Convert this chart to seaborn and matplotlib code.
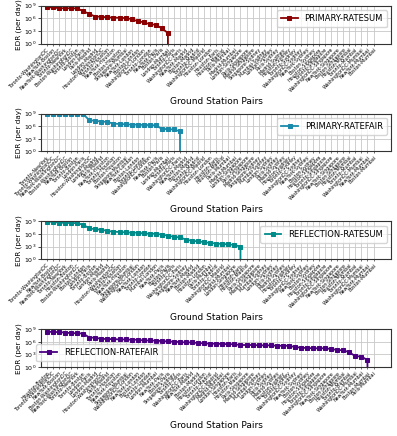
import numpy as np
import matplotlib
matplotlib.use("Agg")
import matplotlib.pyplot as plt
import seaborn as sns

# --- data (EDR per day) ---
labels_p_sum = [
    "Toronto-WashingtonDC", "NewYork-Boston", "NewYork-WashingtonDC", "Toronto-NewYork",
    "Boston-WashingtonDC", "Toronto-Boston", "London-Paris", "Paris-Madrid", "London-Madrid",
    "Houston-WashingtonDC", "Toronto-Houston", "NewYork-Houston", "Boston-Houston",
    "Singapore-Mumbai", "NewYork-London", "Boston-London", "WashingtonDC-London",
    "Toronto-London", "NewYork-Paris", "Boston-Paris", "London-Mumbai", "Toronto-Paris",
    "WashingtonDC-Paris", "NewYork-Madrid", "Boston-Madrid", "Toronto-Madrid",
    "WashingtonDC-Madrid", "Houston-London", "Houston-Paris", "Houston-Madrid", "Paris-Mumbai",
    "Madrid-Mumbai", "London-Singapore", "Paris-Singapore", "Madrid-Singapore",
    "Singapore-Sydney", "Mumbai-Sydney", "London-Sydney", "Paris-Sydney", "Madrid-Sydney",
    "Houston-Sydney", "Toronto-Sydney", "WashingtonDC-Sydney", "NewYork-Sydney", "Boston-Sydney",
    "Houston-Singapore", "Toronto-Singapore", "WashingtonDC-Singapore", "NewYork-Singapore",
    "Boston-Singapore", "Houston-Mumbai", "Toronto-Mumbai", "WashingtonDC-Mumbai",
    "NewYork-Mumbai", "Boston-Mumbai",
]
labels_p_fair = [
    "Toronto-NewYork", "Toronto-WashingtonDC", "NewYork-WashingtonDC", "Boston-WashingtonDC",
    "NewYork-Boston", "Toronto-Boston", "London-Paris", "Houston-WashingtonDC", "London-Madrid",
    "Paris-Madrid", "NewYork-Houston", "Toronto-Houston", "Boston-Houston", "Singapore-Mumbai",
    "NewYork-London", "Boston-London", "Toronto-London", "WashingtonDC-London", "NewYork-Paris",
    "Boston-Paris", "London-Mumbai", "Toronto-Paris", "WashingtonDC-Paris", "NewYork-Madrid",
    "Boston-Madrid", "Toronto-Madrid", "WashingtonDC-Madrid", "Houston-London", "Houston-Paris",
    "Houston-Madrid", "Paris-Mumbai", "Madrid-Mumbai", "London-Singapore", "Paris-Singapore",
    "Madrid-Singapore", "Singapore-Sydney", "Mumbai-Sydney", "London-Sydney", "Paris-Sydney",
    "Madrid-Sydney", "Houston-Sydney", "Toronto-Sydney", "WashingtonDC-Sydney", "NewYork-Sydney",
    "Boston-Sydney", "Houston-Singapore", "Toronto-Singapore", "WashingtonDC-Singapore",
    "NewYork-Singapore", "Boston-Singapore", "Houston-Mumbai", "Toronto-Mumbai",
    "WashingtonDC-Mumbai", "NewYork-Mumbai", "Boston-Mumbai",
]
labels_r_sum = [
    "Toronto-WashingtonDC", "NewYork-Boston", "NewYork-WashingtonDC", "Toronto-NewYork",
    "Houston-Boston", "Boston-WashingtonDC", "Boston-London", "London-Paris", "Toronto-Boston",
    "London-Madrid", "Paris-Madrid", "Houston-WashingtonDC", "Toronto-Houston",
    "NewYork-Houston", "Singapore-Mumbai", "WashingtonDC-London", "NewYork-London",
    "Toronto-London", "Mumbai-London", "NewYork-Paris", "Boston-Paris", "Toronto-Paris",
    "WashingtonDC-Paris", "Singapore-Sydney", "NewYork-Madrid", "Boston-Madrid",
    "Houston-London", "Paris-Mumbai", "Toronto-Madrid", "WashingtonDC-Madrid", "Madrid-Mumbai",
    "London-Singapore", "Houston-Paris", "Houston-Madrid", "Paris-Singapore",
    "Madrid-Singapore", "Mumbai-Sydney", "London-Sydney", "Paris-Sydney", "Madrid-Sydney",
    "Houston-Sydney", "Toronto-Sydney", "WashingtonDC-Sydney", "NewYork-Sydney", "Boston-Sydney",
    "Houston-Singapore", "Toronto-Singapore", "WashingtonDC-Singapore", "NewYork-Singapore",
    "Boston-Singapore", "Houston-Mumbai", "Toronto-Mumbai", "WashingtonDC-Mumbai",
    "NewYork-Mumbai", "Boston-Mumbai",
]
labels_r_fair = [
    "Houston-Boston", "Toronto-WashingtonDC", "NewYork-Boston", "Boston-WashingtonDC",
    "NewYork-WashingtonDC", "Toronto-NewYork", "Toronto-Boston", "London-Paris", "London-Madrid",
    "Houston-WashingtonDC", "Paris-Madrid", "Toronto-Houston", "NewYork-Houston",
    "Singapore-Mumbai", "WashingtonDC-London", "NewYork-London", "Boston-London",
    "Toronto-London", "London-Mumbai", "NewYork-Paris", "Boston-Paris", "Singapore-Sydney",
    "Toronto-Paris", "WashingtonDC-Paris", "NewYork-Madrid", "Boston-Madrid", "Houston-London",
    "Toronto-Madrid", "WashingtonDC-Madrid", "Madrid-Mumbai", "London-Singapore",
    "Houston-Paris", "Houston-Madrid", "Paris-Singapore", "Madrid-Singapore", "Mumbai-Sydney",
    "London-Sydney", "Paris-Sydney", "Madrid-Sydney", "Houston-Sydney", "Toronto-Sydney",
    "WashingtonDC-Sydney", "NewYork-Sydney", "Boston-Sydney", "Houston-Singapore",
    "Toronto-Singapore", "WashingtonDC-Singapore", "NewYork-Singapore", "Boston-Singapore",
    "Houston-Mumbai", "Toronto-Mumbai", "WashingtonDC-Mumbai", "NewYork-Mumbai",
    "Boston-Mumbai", "Paris-Mumbai",
]

edr_p_sum = [4.0e8, 3.9e8, 2.5e8, 2.4e8, 2.4e8, 2.2e8, 5.0e7, 1.1e7, 2.5e6, 2.4e6, 1.6e6,
             1.5e6, 1.3e6, 1.1e6, 6.3e5, 2.0e5, 1.1e5, 4.0e4, 2.8e4, 4.0e3, 3.2e2] + [0] * 34
edr_p_fair = [6.8e8, 6.8e8, 6.8e8, 6.8e8, 6.8e8, 6.8e8, 6.8e8, 2.7e7, 1.8e7, 1.25e7, 1.0e7,
              4.0e6, 3.3e6, 2.75e6, 2.3e6, 2.3e6, 1.85e6, 1.85e6, 1.55e6, 2.3e5, 1.9e5,
              1.6e5, 6.0e4] + [0] * 32
edr_r_sum = [8.3e8, 8.3e8, 4.7e8, 4.7e8, 3.9e8, 3.9e8, 1.55e8, 2.3e7, 1.35e7, 1.1e7, 5.2e6,
             3.6e6, 3.0e6, 2.5e6, 2.1e6, 2.1e6, 1.4e6, 1.2e6, 1.2e6, 6.8e5, 3.9e5, 2.2e5,
             1.5e5, 4.9e4, 2.3e4, 1.9e4, 1.1e4, 7.6e3, 5.2e3, 4.3e3, 3.5e3, 2.5e3,
             1.0e3] + [0] * 22
edr_r_fair = [2.4e8, 2.4e8, 2.0e8, 1.7e8, 1.15e8, 1.15e8, 9.5e7,
              1.1e7, 9.3e6, 5.4e6, 4.6e6, 4.6e6, 3.8e6, 3.8e6, 3.2e6, 3.2e6, 2.2e6, 2.2e6,
              1.9e6, 1.55e6, 1.3e6, 1.07e6, 8.9e5, 7.5e5, 7.5e5, 5.2e5, 4.4e5, 3.6e5, 3.6e5,
              3.0e5, 3.0e5, 2.6e5, 1.8e5, 1.8e5, 1.8e5, 1.5e5, 1.5e5, 1.5e5, 1.2e5,
              1.2e5, 1.2e5, 6.0e4, 4.2e4, 3.5e4, 3.0e4, 3.0e4, 3.0e4, 2.0e4, 1.2e4, 1.0e4,
              3.4e3, 3.9e2, 3.3e2, 4.6e1, 0]

panels = [
    ("PRIMARY-RATESUM", labels_p_sum, edr_p_sum, "#8b0000", dict(loc="upper right")),
    ("PRIMARY-RATEFAIR", labels_p_fair, edr_p_fair, "#1a8aaa", dict(loc="upper right")),
    ("REFLECTION-RATESUM", labels_r_sum, edr_r_sum, "#008b8b", dict(loc="upper right")),
    ("REFLECTION-RATEFAIR", labels_r_fair, edr_r_fair, "#4b0082",
     dict(loc="center left", bbox_to_anchor=(-0.025, 0.38))),
]

fig, axs = plt.subplots(4, 1, figsize=(3.97, 4.36), dpi=100)
fig.subplots_adjust(left=0.103, right=0.985, top=0.987, bottom=0.158, hspace=1.85)

for ax, (name, labels, edr, color, leg_kw) in zip(axs, panels):
    x = np.arange(len(labels))
    sns.lineplot(x=x, y=edr, ax=ax, color=color, marker="s", markersize=3.5,
                 markeredgecolor=color, linewidth=1.3, label=name)
    ax.set_yscale("log")
    ax.set_ylim(1, 1e9)
    ax.set_yticks([1, 1e3, 1e6, 1e9])
    ax.minorticks_off()
    ax.set_xlim(-1, 56.9)
    ax.set_xticks(x)
    ax.set_xticklabels(labels, rotation=45, ha="right", fontsize=3.4, rotation_mode="anchor")
    ax.tick_params(axis="y", labelsize=4.5, length=2, width=0.5, pad=1)
    ax.tick_params(axis="x", length=1.5, width=0.4, pad=1)
    ax.grid(True, color="#c8c8c8", linewidth=0.6)
    ax.set_axisbelow(True)
    for s in ax.spines.values():
        s.set_linewidth(0.8)
        s.set_color("#333333")
    ax.set_ylabel("EDR (per day)", fontsize=5.2, labelpad=2)
    ax.set_xlabel("Ground Station Pairs", fontsize=6.5, labelpad=3)
    ax.legend(fontsize=6, handlelength=2.0, borderpad=0.5, **leg_kw)

plt.savefig("out.png", dpi=100)
